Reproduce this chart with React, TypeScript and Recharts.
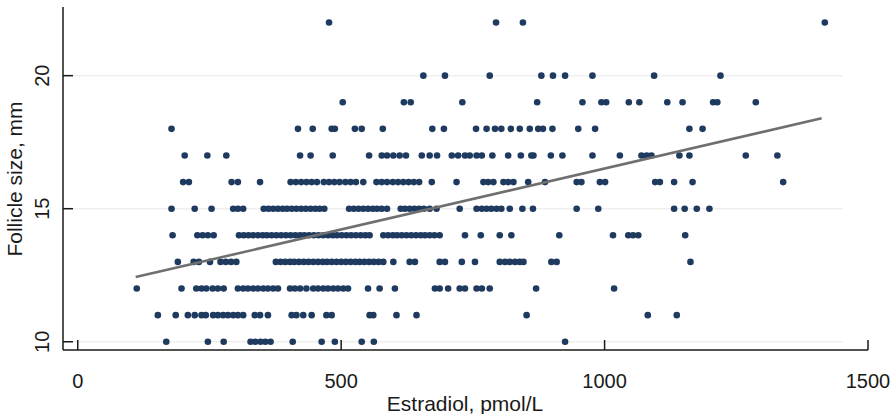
import { ScatterChart, Scatter, XAxis, YAxis, ReferenceLine } from "recharts";

// ─── Data (estradiol pmol/L, grouped by follicle size mm) ─────────────────────

const SIZE_10 = [168, 247, 277, 328, 337, 347, 356, 366, 408, 463, 488, 539, 562, 925];
const SIZE_11 = [
  152, 186, 209, 222, 235, 243, 257, 266, 276, 285, 295, 304, 314, 336, 346, 361,
  406, 415, 428, 444, 472, 482, 554, 561, 605, 643, 852, 1082, 1137,
];
const SIZE_12 = [
  112, 197, 225, 235, 244, 256, 266, 277, 304, 314, 323, 333, 342, 352, 361, 371,
  380, 403, 412, 422, 434, 447, 456, 466, 475, 485, 494, 504, 513, 551, 573, 602,
  678, 687, 703, 725, 735, 757, 767, 782, 870, 1018,
];
const SIZE_13 = [
  190, 220, 230, 251, 271, 281, 291, 301, 376, 385, 394, 403, 411, 420, 429, 438,
  447, 456, 465, 473, 482, 491, 500, 509, 518, 527, 535, 544, 553, 562, 571, 580,
  599, 630, 640, 687, 697, 729, 754, 801, 811, 820, 830, 839, 846, 899, 909, 1163,
];
const SIZE_14 = [
  180, 227, 237, 247, 258, 306, 315, 324, 333, 342, 351, 359, 368, 377, 386, 395,
  404, 413, 422, 430, 439, 448, 457, 466, 475, 484, 492, 501, 510, 519, 528, 537,
  546, 554, 580, 589, 598, 606, 615, 624, 633, 642, 651, 659, 668, 677, 687, 735,
  765, 801, 823, 914, 1016, 1045, 1054, 1064, 1153,
];
const SIZE_15 = [
  178, 222, 254, 295, 304, 314, 353, 362, 371, 380, 389, 397, 406, 415, 424, 433,
  442, 451, 459, 468, 515, 524, 533, 542, 551, 560, 568, 577, 587, 613, 621, 630,
  639, 648, 657, 668, 681, 725, 757, 767, 776, 785, 795, 804, 820, 844, 864, 947,
  988, 1132, 1152, 1175, 1199,
];
const SIZE_16 = [
  200, 211, 292, 304, 346, 404, 414, 424, 434, 444, 454, 467, 477, 487, 497, 508,
  518, 528, 542, 567, 577, 587, 598, 608, 618, 628, 638, 648, 672, 719, 770, 779,
  789, 808, 817, 827, 855, 887, 947, 956, 991, 1001, 1096, 1105, 1132, 1167, 1339,
];
const SIZE_17 = [
  203, 246, 282, 422, 442, 484, 553, 577, 587, 599, 611, 623, 653, 668, 682, 710,
  722, 735, 744, 757, 767, 787, 817, 841, 861, 865, 898, 920, 977, 1029, 1070, 1080,
  1089, 1142, 1161, 1268, 1328,
];
const SIZE_18 = [
  178, 418, 446, 482, 488, 526, 539, 579, 673, 695, 756, 776, 792, 804, 822, 839,
  858, 874, 883, 901, 950, 982, 1161, 1186,
];
const SIZE_19 = [503, 619, 632, 730, 872, 958, 994, 1003, 1046, 1066, 1119, 1148, 1206, 1214, 1287];
const SIZE_20 = [656, 697, 782, 880, 902, 925, 977, 1094, 1220];
const SIZE_22 = [477, 794, 845, 1418];

// fitted line ends
const FIT_E2 = [110, 1412];
const FIT_MM = [12.43, 18.4];

const X_TICKS = [0, 500, 1000, 1500];
const Y_TICKS = [10, 15, 20];

const ROWS: [number, number[]][] = [
  [10, SIZE_10],
  [11, SIZE_11],
  [12, SIZE_12],
  [13, SIZE_13],
  [14, SIZE_14],
  [15, SIZE_15],
  [16, SIZE_16],
  [17, SIZE_17],
  [18, SIZE_18],
  [19, SIZE_19],
  [20, SIZE_20],
  [22, SIZE_22],
];

const points = ROWS.flatMap(([mm, list]) => list.map((e2) => ({ e2, mm })));
const fit = FIT_E2.map((e2, i) => ({ e2, mm: FIT_MM[i] }));

// ─── Style ────────────────────────────────────────────────────────────────────

const FONT = "'Liberation Sans', Arial, sans-serif";
const INK = "#1a1a1a";
const DOT = "#1f3a5f";

// ─── Ticks (drawn inward, like the original) ──────────────────────────────────

function XTick({ x, y, payload }: any) {
  return (
    <g>
      <line x1={x} y1={y} x2={x} y2={y - 10} stroke={INK} strokeWidth={1.5} />
      <text x={x} y={y + 38} textAnchor="middle" fontSize={20} fontFamily={FONT} fill={INK}>
        {payload.value}
      </text>
    </g>
  );
}

function YTick({ x, y, payload }: any) {
  const tx = x - 14;
  return (
    <g>
      <line x1={x} y1={y} x2={x + 10} y2={y} stroke={INK} strokeWidth={1.5} />
      <text
        x={tx}
        y={y}
        transform={`rotate(-90 ${tx} ${y})`}
        textAnchor="middle"
        fontSize={20}
        fontFamily={FONT}
        fill={INK}
      >
        {payload.value}
      </text>
    </g>
  );
}

const Dot = (p: any) => <circle cx={p.cx} cy={p.cy} r={3.3} fill={DOT} />;
const NoDot = () => <g />;

// ─── Component ────────────────────────────────────────────────────────────────

export default function App() {
  return (
    <div style={{ position: "absolute", left: 0, top: 0, background: "#fff" }}>
      <ScatterChart width={890} height={414} margin={{ top: 7, right: 22, bottom: 0, left: 0 }}>
        <XAxis
          type="number"
          dataKey="e2"
          domain={[-28, 1500]}
          allowDataOverflow
          ticks={X_TICKS}
          height={64}
          tickSize={0}
          tickMargin={0}
          tickLine={false}
          tick={(p: any) => <XTick {...p} />}
          axisLine={{ stroke: INK, strokeWidth: 1.5 }}
          label={{
            content: () => (
              <text x={465} y={411} textAnchor="middle" fontSize={21} fontFamily={FONT} fill={INK}>
                Estradiol, pmol/L
              </text>
            ),
          }}
        />
        <YAxis
          type="number"
          dataKey="mm"
          domain={[9.69, 22.58]}
          allowDataOverflow
          ticks={Y_TICKS}
          width={63}
          tickSize={0}
          tickMargin={0}
          tickLine={false}
          tick={(p: any) => <YTick {...p} />}
          axisLine={{ stroke: INK, strokeWidth: 1.5 }}
          label={{
            content: () => (
              <text
                x={22}
                y={179}
                transform="rotate(-90 22 179)"
                textAnchor="middle"
                fontSize={21}
                fontFamily={FONT}
                fill={INK}
              >
                Follicle size, mm
              </text>
            ),
          }}
        />
        {Y_TICKS.map((t) => (
          <ReferenceLine
            key={t}
            segment={[
              { x: -28, y: t },
              { x: 1452, y: t },
            ]}
            stroke="#efefef"
            strokeWidth={1.5}
          />
        ))}
        <Scatter data={points} shape={Dot} isAnimationActive={false} />
        <Scatter
          data={fit}
          shape={NoDot}
          line={{ stroke: "#6f6f6f", strokeWidth: 2.6 }}
          isAnimationActive={false}
        />
      </ScatterChart>
    </div>
  );
}
